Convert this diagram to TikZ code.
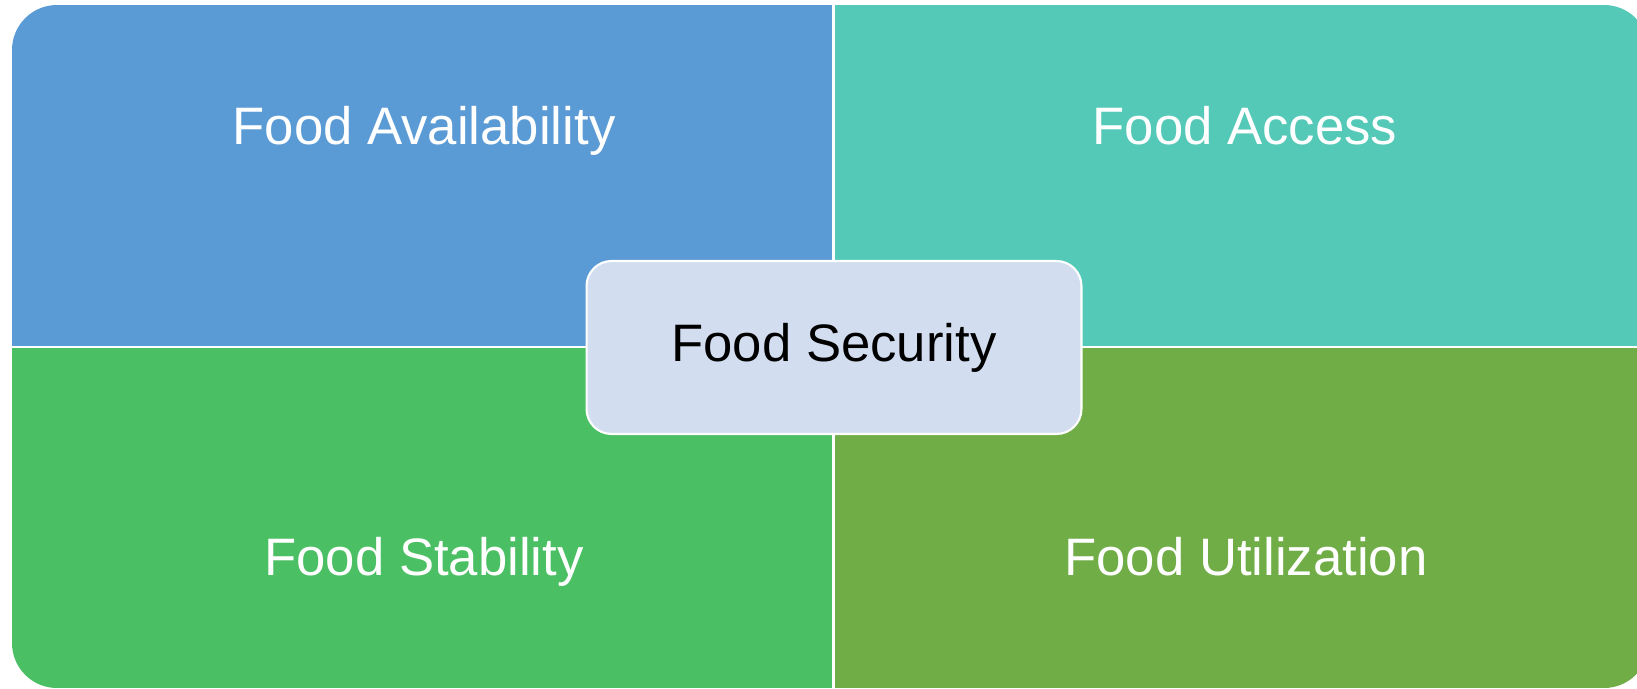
\documentclass[tikz,border=0pt]{standalone}
\usepackage{fontspec}
\setmainfont{Liberation Sans}
\definecolor{availblue}{HTML}{5B9BD5}
\definecolor{accessteal}{HTML}{54C9B7}
\definecolor{stabgreen}{HTML}{4BBF63}
\definecolor{utilgreen}{HTML}{70AD47}
\definecolor{securefill}{HTML}{D2DEEF}
\tikzset{
    quadtext/.style={white,anchor=base,font=\fontsize{30}{36}\selectfont},
    hubbox/.style={draw=white,line width=1.2pt,fill=securefill,rounded corners=0.5cm,
        minimum width=9.9cm,minimum height=3.46cm,font=\fontsize{30}{36}\selectfont}
}
\begin{document}
\begin{tikzpicture}[x=0.02cm,y=-0.02cm]
    \useasboundingbox (0,0) rectangle (1637,689);

    % Four quadrants inside one rounded frame
    \begin{scope}
        \clip[rounded corners=0.9cm] (12,5) rectangle (1649,688);
        \fill[availblue] (12,5) rectangle (833,347);
        \fill[accessteal] (833,5) rectangle (1649,347);
        \fill[stabgreen] (12,347) rectangle (833,688);
        \fill[utilgreen] (833,347) rectangle (1649,688);
        % White dividers
        \draw[white,line width=1.7pt] (833,0) -- (833,689);
        \draw[white,line width=1.7pt] (0,347) -- (1649,347);
    \end{scope}

    % Quadrant labels (placed on their baselines)
    \node[quadtext] (avail) at (424,145) {Food Availability};
    \node[quadtext] (access) at (1245,145) {Food Access};
    \node[quadtext] (stab) at (424,575) {Food Stability};
    \node[quadtext] (util) at (1246,575) {Food Utilization};

    % Centre box
    \node[hubbox] (security) at (834,347.5) {Food Security};
\end{tikzpicture}
\end{document}
